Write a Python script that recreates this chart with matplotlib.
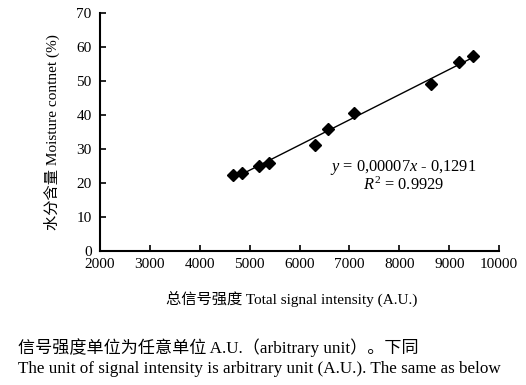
import numpy as np
import matplotlib
matplotlib.use('Agg')
import matplotlib.pyplot as plt

plt.rcParams['font.family'] = ['Liberation Serif', 'Noto Sans CJK SC']
plt.rcParams['mathtext.fontset'] = 'custom'
plt.rcParams['mathtext.rm'] = 'Liberation Serif'
plt.rcParams['mathtext.it'] = 'Liberation Serif:italic'

# signal intensity (A.U.) and moisture content (%)
signal = [4660, 4850, 5180, 5390, 6300, 6560, 7100, 8630, 9200, 9470]
moisture = [22.4, 22.8, 25.0, 25.8, 31.0, 35.8, 40.7, 49.2, 55.5, 57.5]

xticks = [2000, 3000, 4000, 5000, 6000, 7000, 8000, 9000, 10000]
yticks = [0, 10, 20, 30, 40, 50, 60, 70]

fig = plt.figure(figsize=(5.26, 3.85), dpi=100)
ax = fig.add_axes([0.190, 0.349, 0.759, 0.617])

# linear fit line over data range
k, b = np.polyfit(signal, moisture, 1)
xs = np.array([min(signal) - 20, max(signal)])
ax.plot(xs, k * xs + b, color='black', lw=1.0, zorder=2)
ax.plot(signal, moisture, linestyle='none', marker='D', markersize=6,
        color='black', zorder=3)

ax.set_xlim(2000, 10000)
ax.set_ylim(0, 70)
ax.set_xticks(xticks)
ax.set_yticks(yticks)
ax.spines['top'].set_visible(False)
ax.spines['right'].set_visible(False)
for s in ['left', 'bottom']:
    ax.spines[s].set_linewidth(1.5)
ax.tick_params(direction='in', length=4, width=1.2, labelsize=11)
ax.tick_params(axis='x', pad=5)
ax.tick_params(axis='y', pad=6)

ax.set_xlabel('总信号强度 Total signal intensity (A.U.)', fontsize=11, labelpad=8)
ax.xaxis.set_label_coords(0.48, -0.17)
ax.set_ylabel('水分含量 Moisture contnet (%)', fontsize=11, labelpad=12)

ax.text(8080, 24.6, r'$y$ = 0,00007$x$ - 0,1291', fontsize=11.8, ha='center', va='center')
ax.text(8080, 19.3, r'$R^2$ = 0.9929', fontsize=11.8, ha='center', va='center')

fig.text(18 / 526, 1 - 348 / 385, '信号强度单位为任意单位 A.U.（arbitrary unit）。下同',
         fontsize=12.3, ha='left', va='center')
fig.text(18 / 526, 1 - 369 / 385,
         'The unit of signal intensity is arbitrary unit (A.U.). The same as below',
         fontsize=12.3, ha='left', va='center')

fig.savefig('out.png', dpi=100)
